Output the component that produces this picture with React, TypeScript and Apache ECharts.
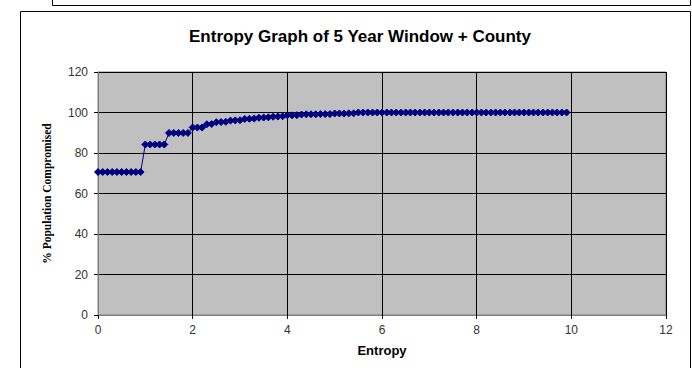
import React, { useEffect, useRef } from "react";
import * as echarts from "echarts";

const titleText = "Entropy Graph of 5 Year Window + County";
const xAxisName = "Entropy";
const yAxisName = "% Population Compromised";

const entropyValues = [
  0.0, 0.1, 0.2, 0.3, 0.4, 0.5, 0.6, 0.7, 0.8, 0.9,
  1.0, 1.1, 1.2, 1.3, 1.4, 1.5, 1.6, 1.7, 1.8, 1.9,
  2.0, 2.1, 2.2, 2.3, 2.4, 2.5, 2.6, 2.7, 2.8, 2.9,
  3.0, 3.1, 3.2, 3.3, 3.4, 3.5, 3.6, 3.7, 3.8, 3.9,
  4.0, 4.1, 4.2, 4.3, 4.4, 4.5, 4.6, 4.7, 4.8, 4.9,
  5.0, 5.1, 5.2, 5.3, 5.4, 5.5, 5.6, 5.7, 5.8, 5.9,
  6.0, 6.1, 6.2, 6.3, 6.4, 6.5, 6.6, 6.7, 6.8, 6.9,
  7.0, 7.1, 7.2, 7.3, 7.4, 7.5, 7.6, 7.7, 7.8, 7.9,
  8.0, 8.1, 8.2, 8.3, 8.4, 8.5, 8.6, 8.7, 8.8, 8.9,
  9.0, 9.1, 9.2, 9.3, 9.4, 9.5, 9.6, 9.7, 9.8, 9.9,
];

const compromisedValues = [
  70.6, 70.6, 70.6, 70.6, 70.6, 70.6, 70.6, 70.6, 70.6, 70.6,
  84.2, 84.2, 84.2, 84.2, 84.2, 89.9, 89.9, 89.9, 89.9, 89.9,
  92.6, 92.6, 92.6, 94.2, 94.3, 95.2, 95.3, 95.4, 96.0, 96.1,
  96.2, 96.8, 96.9, 97.0, 97.4, 97.5, 97.6, 97.9, 98.0, 98.1,
  98.6, 98.6, 98.7, 99.0, 99.1, 99.1, 99.1, 99.2, 99.2, 99.2,
  99.5, 99.5, 99.5, 99.6, 99.6, 100, 100, 100, 100, 100,
  100, 100, 100, 100, 100, 100, 100, 100, 100, 100,
  100, 100, 100, 100, 100, 100, 100, 100, 100, 100,
  100, 100, 100, 100, 100, 100, 100, 100, 100, 100,
  100, 100, 100, 100, 100, 100, 100, 100, 100, 100,
];

export default function App() {
  const ref = useRef<HTMLDivElement>(null);
  useEffect(() => {
    if (!ref.current) return;
    const chart = echarts.init(ref.current, null, { renderer: "svg" });
    const data = entropyValues.map((x, i) => [x, compromisedValues[i]]);
    chart.setOption({
      animation: false,
      backgroundColor: "#ffffff",
      title: {
        text: titleText,
        left: 355,
        textAlign: "center",
        top: 23,
        textStyle: {
          fontFamily: "Liberation Sans, Arial, sans-serif",
          fontSize: 17,
          fontWeight: "bold",
          color: "#000",
        },
      },
      graphic: [
        {
          type: "rect",
          shape: { x: 52.5, y: -10, width: 638, height: 15.5 },
          style: { fill: "none", stroke: "#000", lineWidth: 1 },
          silent: true,
        },
        {
          type: "rect",
          shape: { x: 20.5, y: 11.5, width: 670, height: 370 },
          style: { fill: "none", stroke: "#000", lineWidth: 1 },
          silent: true,
        },
      ],
      grid: {
        left: 98,
        right: 26,
        top: 72,
        bottom: 53,
        show: true,
        backgroundColor: "#c0c0c0",
        borderColor: "#808080",
        borderWidth: 1,
      },
      xAxis: {
        type: "value",
        min: 0,
        max: 12,
        interval: 2,
        name: xAxisName,
        nameLocation: "middle",
        nameGap: 29,
        nameTextStyle: {
          fontFamily: "Liberation Sans, Arial, sans-serif",
          fontSize: 13,
          fontWeight: "bold",
          color: "#000",
        },
        axisLine: { show: true, lineStyle: { color: "#808080", width: 1 } },
        axisTick: { show: true, inside: false, length: 4, lineStyle: { color: "#000" } },
        axisLabel: {
          fontFamily: "Liberation Sans, Arial, sans-serif",
          fontSize: 12,
          color: "#333",
          margin: 9,
        },
        splitLine: { show: true, lineStyle: { color: "#000", width: 1 } },
      },
      yAxis: {
        type: "value",
        min: 0,
        max: 120,
        interval: 20,
        name: yAxisName,
        nameLocation: "middle",
        nameGap: 45,
        nameTextStyle: {
          fontFamily: "Liberation Serif, Times New Roman, serif",
          fontSize: 11.5,
          fontWeight: "bold",
          color: "#000",
        },
        axisLine: { show: true, lineStyle: { color: "#808080", width: 1 } },
        axisTick: { show: true, inside: false, length: 4, lineStyle: { color: "#000" } },
        axisLabel: {
          fontFamily: "Liberation Sans, Arial, sans-serif",
          fontSize: 12,
          color: "#333",
          margin: 10,
        },
        splitLine: { show: true, lineStyle: { color: "#000", width: 1 } },
      },
      series: [
        {
          type: "line",
          data,
          symbol: "diamond",
          symbolSize: 7,
          showSymbol: true,
          lineStyle: { color: "#000080", width: 1 },
          itemStyle: { color: "#000080", borderColor: "#000080" },
        },
      ],
    });
    return () => chart.dispose();
  }, []);
  return (
    <div
      ref={ref}
      style={{ position: "fixed", left: 0, top: 0, width: 692, height: 368 }}
    />
  );
}
